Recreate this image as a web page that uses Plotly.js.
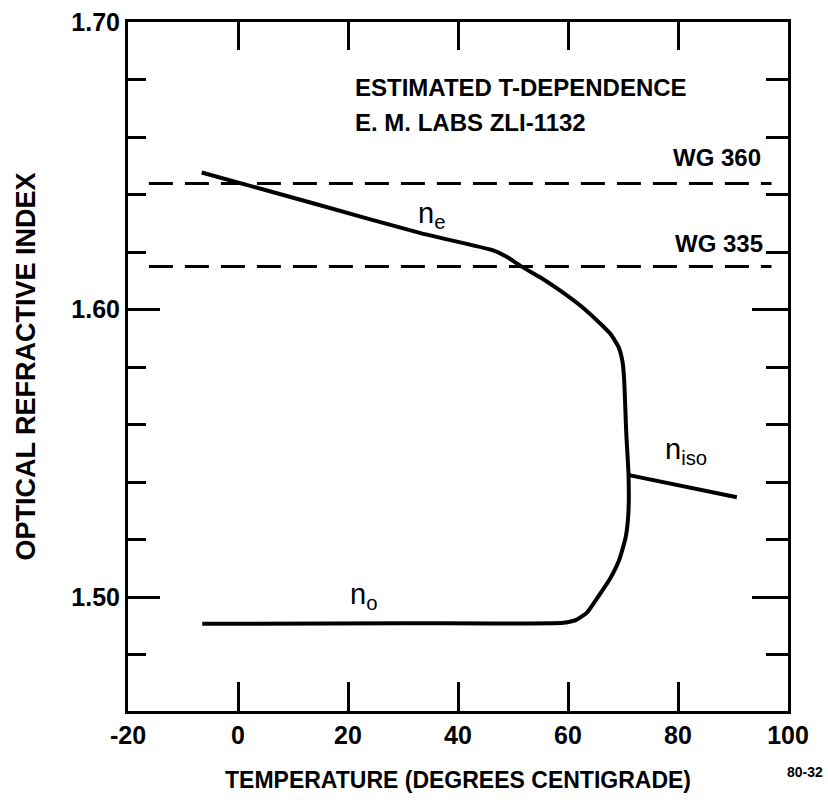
<!DOCTYPE html>
<html>
<head>
<meta charset="utf-8">
<script src="https://cdn.plot.ly/plotly-3.0.1.min.js"></script>
<style>html,body{margin:0;padding:0;background:#fff;}#chart{width:828px;height:800px;}</style>
</head>
<body>
<div id="chart"></div>
<script>
// Main curve: n_e branch, steep drop near clearing point, and n_o branch (T in °C, n)
const mainT = [-6.6, 13.8, 33.2, 46.4, 49.0, 51.3, 55.0, 58.6, 62.5, 65.9, 67.7, 69.2, 69.9, 70.2, 70.6, 71.0, 71.0, 70.5, 69.3, 67.5, 65.3, 63.5, 61.5, 59.2, 30.0, -6.5];
const mainN = [1.6477, 1.6369, 1.6266, 1.6206, 1.6182, 1.6153, 1.6112, 1.6066, 1.6010, 1.5951, 1.5916, 1.5870, 1.5820, 1.5760, 1.5568, 1.5429, 1.5300, 1.5210, 1.5130, 1.5060, 1.4997, 1.4948, 1.4922, 1.4912, 1.4910, 1.4908];
// Isotropic branch
const isoT = [71.1, 90.7];
const isoN = [1.5425, 1.5348];
// Glass filter reference levels (dashed)
const filterT = [-16.2, 97.0];
const wg360N = [1.6439, 1.6439];
const wg335N = [1.6150, 1.6150];
// Axis ticks
const xTicks = [-20, 0, 20, 40, 60, 80, 100];
const xTickLabels = ['-20', '0', '20', '40', '60', '80', '100'];
const xInnerTicks = [0, 20, 40, 60, 80];

const FONT = 'Liberation Sans, Arial, sans-serif';

const traces = [
  {x: mainT, y: mainN, mode: 'lines', line: {color: '#000', width: 4, shape: 'spline', smoothing: 0.5}, showlegend: false, hoverinfo: 'skip'},
  {x: isoT, y: isoN, mode: 'lines', line: {color: '#000', width: 4}, showlegend: false, hoverinfo: 'skip'},
  {x: filterT, y: wg360N, mode: 'lines', line: {color: '#000', width: 3, dash: '24px,12px'}, showlegend: false, hoverinfo: 'skip'},
  {x: filterT, y: wg335N, mode: 'lines', line: {color: '#000', width: 3, dash: '24px,12px'}, showlegend: false, hoverinfo: 'skip'},
  {x: [-20], y: [1.5], xaxis: 'x2', yaxis: 'y2', mode: 'markers', marker: {opacity: 0}, showlegend: false, hoverinfo: 'skip'}
];

const yRange = [1.4605, 1.70];
const xRange = [-20, 100];

const layout = {
  width: 828, height: 800,
  margin: {l: 128, r: 40, t: 22, b: 89},
  paper_bgcolor: '#fff', plot_bgcolor: '#fff',
  showlegend: false,
  font: {family: FONT, color: '#000'},
  xaxis: {
    range: xRange, tickmode: 'array', tickvals: xTicks, ticktext: xTickLabels,
    ticks: 'inside', ticklen: 29, tickwidth: 3, tickcolor: '#000',
    showline: true, linewidth: 3, linecolor: '#000', showgrid: false, zeroline: false,
    tickfont: {family: FONT, size: 25, weight: 'bold'},
    title: {text: 'TEMPERATURE (DEGREES CENTIGRADE)', font: {family: FONT, size: 23, weight: 'bold'}, standoff: 24}
  },
  yaxis: {
    range: yRange, tick0: 1.5, dtick: 0.1, tickformat: '.2f',
    ticks: 'inside', ticklen: 32, tickwidth: 3, tickcolor: '#000',
    minor: {dtick: 0.02, tick0: 1.5, ticks: 'inside', ticklen: 18, tickwidth: 3, tickcolor: '#000', showgrid: false},
    showline: true, linewidth: 3, linecolor: '#000', showgrid: false, zeroline: false,
    tickfont: {family: FONT, size: 25, weight: 'bold'},
    title: {text: 'OPTICAL REFRACTIVE INDEX', font: {family: FONT, size: 27, weight: 'bold'}, standoff: 28}
  },
  xaxis2: {
    overlaying: 'x', side: 'top', anchor: 'y2', matches: 'x', range: xRange,
    tickmode: 'array', tickvals: xInnerTicks,
    ticks: 'inside', ticklen: 28, tickwidth: 3, tickcolor: '#000',
    showticklabels: false, showline: true, linewidth: 3, linecolor: '#000', showgrid: false, zeroline: false
  },
  yaxis2: {
    overlaying: 'y', side: 'right', anchor: 'x2', matches: 'y', range: yRange,
    tick0: 1.5, dtick: 0.1,
    ticks: 'inside', ticklen: 36, tickwidth: 3, tickcolor: '#000',
    minor: {dtick: 0.02, tick0: 1.5, ticks: 'inside', ticklen: 22, tickwidth: 3, tickcolor: '#000', showgrid: false},
    showticklabels: false, showline: true, linewidth: 3, linecolor: '#000', showgrid: false, zeroline: false
  },
  annotations: [
    {x: 20.85, y: 1.6774, xref: 'x', yref: 'y', text: 'ESTIMATED T-DEPENDENCE', showarrow: false, xanchor: 'left', yanchor: 'middle', font: {family: FONT, size: 24, weight: 'bold'}},
    {x: 20.85, y: 1.6652, xref: 'x', yref: 'y', text: 'E. M. LABS ZLI-1132', showarrow: false, xanchor: 'left', yanchor: 'middle', font: {family: FONT, size: 24, weight: 'bold'}},
    {x: 95.5, y: 1.6530, xref: 'x', yref: 'y', text: 'WG 360', showarrow: false, xanchor: 'right', yanchor: 'middle', font: {family: FONT, size: 24, weight: 'bold'}},
    {x: 95.8, y: 1.6230, xref: 'x', yref: 'y', text: 'WG 335', showarrow: false, xanchor: 'right', yanchor: 'middle', font: {family: FONT, size: 24, weight: 'bold'}},
    {x: 35.2, y: 1.6330, xref: 'x', yref: 'y', text: 'n<sub>e</sub>', showarrow: false, xanchor: 'center', yanchor: 'middle', font: {family: FONT, size: 29}},
    {x: 22.8, y: 1.5005, xref: 'x', yref: 'y', text: 'n<sub>o</sub>', showarrow: false, xanchor: 'center', yanchor: 'middle', font: {family: FONT, size: 29}},
    {x: 81.5, y: 1.5510, xref: 'x', yref: 'y', text: 'n<sub>iso</sub>', showarrow: false, xanchor: 'center', yanchor: 'middle', font: {family: FONT, size: 29}},
    {x: 0, y: 0, xref: 'paper', yref: 'paper', text: '80-32', showarrow: false, xanchor: 'center', yanchor: 'middle', font: {family: FONT, size: 14, weight: 'bold'}}
  ]
};
// position the small figure code in pixel terms relative to the plot area
layout.annotations[7].x = (805 - 128) / (828 - 128 - 40);
layout.annotations[7].y = (800 - 89 - 772) / (800 - 22 - 89);

Plotly.newPlot('chart', traces, layout, {staticPlot: true, displayModeBar: false});
</script>
</body>
</html>
